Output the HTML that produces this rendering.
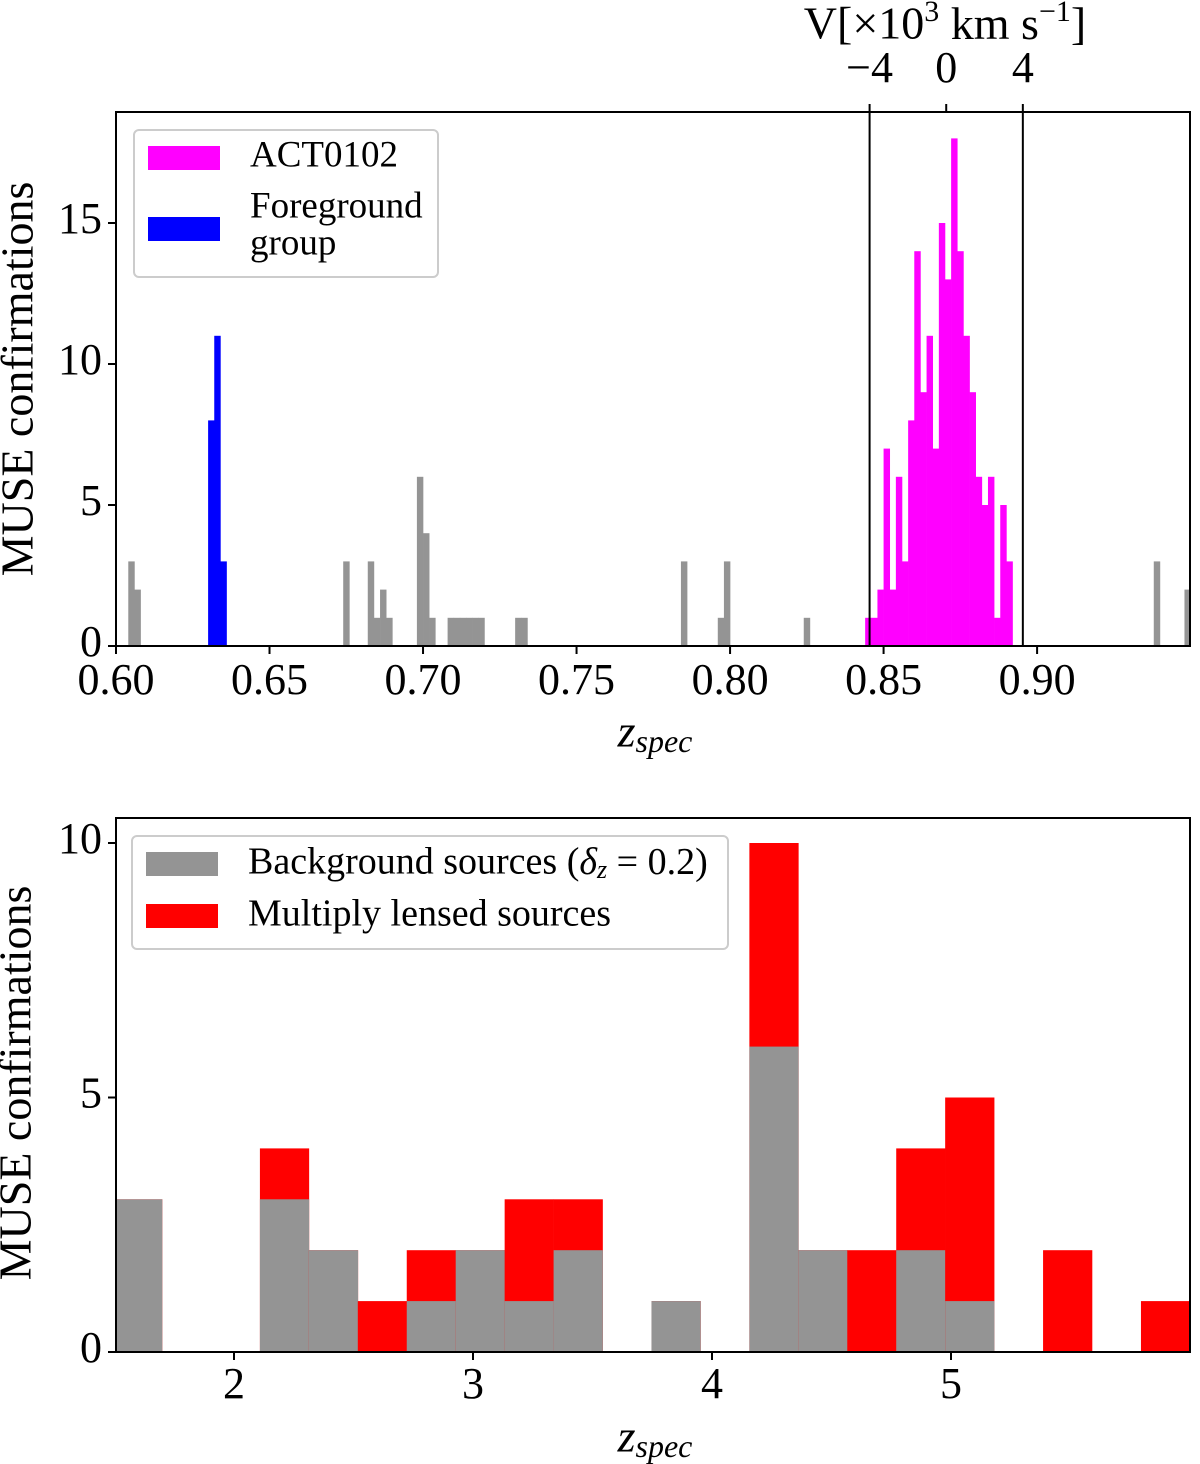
<!DOCTYPE html>
<html><head><meta charset="utf-8"><style>
body{margin:0;background:#fff}
svg{display:block;font-family:"Liberation Serif",serif}
</style></head><body>
<svg id="chart" width="1200" height="1464" viewBox="0 0 1200 1464" xmlns="http://www.w3.org/2000/svg"></svg>
<script>
// ---- Top panel data (bin width 0.002 starting at z=0.600) ----
const topBinStart = 0.600;
const topBinWidth = 0.002;
const topXTicks = [0.60, 0.65, 0.70, 0.75, 0.80, 0.85, 0.90];
const topXTickLabels = ["0.60","0.65","0.70","0.75","0.80","0.85","0.90"];
const topYTicks = [0, 5, 10, 15];
const velTicks = [-4, 0, 4];
const velTickLabels = ["\u22124","0","4"];
const clusterZ = 0.8704;
const grayBins = [2,3,37,41,42,43,44,49,50,51,54,55,56,57,58,59,65,66,92,98,99,112,169,174];
const grayCounts = [3,2,3,3,1,2,1,6,4,1,1,1,1,1,1,1,1,1,3,1,3,1,3,2];
const blueBins = [15,16,17];
const blueCounts = [8,11,3];
const magentaFirstBin = 122;
const magentaCounts = [1,1,2,7,2,6,3,8,14,9,11,7,15,13,18,14,11,9,6,5,6,1,5,3];
// ---- Bottom panel data ----
const botBinStart = 1.494;
const botBinWidth = 0.2048;
const bgCounts    = [3,0,0,3,2,0,1,2,1,2,0,1,0,6,2,0,2,1,0,0,0,0];
const totalCounts = [3,0,0,4,2,1,2,2,3,3,0,1,0,10,2,2,4,5,0,2,0,1];
const botXTicks = [2,3,4,5];
const botYTicks = [0,5,10];

const NS="http://www.w3.org/2000/svg";
const svg=document.getElementById('chart');
function mk(tag,attrs,parent){const e=document.createElementNS(NS,tag);for(const k in attrs)e.setAttribute(k,attrs[k]);(parent||svg).appendChild(e);return e;}
function txt(s,x,y,size,anchor,parent,extra){const t=mk('text',Object.assign({x:x,y:y,'font-size':size,'text-anchor':anchor||'middle','dominant-baseline':'middle',fill:'#000'},extra||{}),parent);t.textContent=s;return t;}
const TICK=44, LAB=46, LEG=37;

// Top axes
const T={x0:116,x1:1190,y0:112,y1:646,zmin:0.6,zmax:0.9498};
const tx=z=>T.x0+(z-T.zmin)/(T.zmax-T.zmin)*(T.x1-T.x0);
const ty=c=>T.y1-c*28.2;
const gTop=mk('g',{});


const clipT=mk('clipPath',{id:'ct'},gTop);mk('rect',{x:T.x0,y:T.y0,width:T.x1-T.x0,height:T.y1-T.y0},clipT);
const barsT=mk('g',{'clip-path':'url(#ct)'},gTop);
function topBar(bin,c,color,name){
  const z0=topBinStart+bin*topBinWidth;
  const x=tx(z0),w=tx(z0+topBinWidth)-x;
  const r=mk('rect',{x:x,y:ty(c),width:w+0.3,height:T.y1-ty(c),fill:color},barsT);
  
  
}
grayBins.forEach((b,i)=>topBar(b,grayCounts[i],'#949494','field-galaxy-bar'));
blueBins.forEach((b,i)=>topBar(b,blueCounts[i],'#0000ff','foreground-group-bar'));
magentaCounts.forEach((c,i)=>topBar(magentaFirstBin+i,c,'#ff00ff','cluster-bar'));
const c=299.792;
const vz=v=>clusterZ+v*(1+clusterZ)/c;
[-4,4].forEach(v=>{const l=mk('line',{x1:tx(vz(v)),x2:tx(vz(v)),y1:T.y0,y2:T.y1,stroke:'#000','stroke-width':2},gTop);});
mk('rect',{x:T.x0,y:T.y0,width:T.x1-T.x0,height:T.y1-T.y0,fill:'none',stroke:'#000','stroke-width':2},gTop);
topXTicks.forEach((z,i)=>{const x=tx(z);mk('line',{x1:x,x2:x,y1:T.y1,y2:T.y1+8,stroke:'#000','stroke-width':2},gTop);const t=txt(topXTickLabels[i],x,684,TICK,'middle',gTop);});
topYTicks.forEach(v=>{const y=ty(v);mk('line',{x1:T.x0-8,x2:T.x0,y1:y,y2:y,stroke:'#000','stroke-width':2},gTop);const t=txt(String(v),T.x0-14,y,TICK,'end',gTop);});
velTicks.forEach((v,i)=>{const x=tx(vz(v));mk('line',{x1:x,x2:x,y1:T.y0-8,y2:T.y0,stroke:'#000','stroke-width':2},gTop);const t=txt(velTickLabels[i],x,72,TICK,'middle',gTop);});
const vt=txt('',945,28,LAB,'middle',gTop);vt.innerHTML='V[\u00d710<tspan dy="-14" font-size="30">3</tspan><tspan dy="14"> km s</tspan><tspan dy="-14" font-size="30">\u22121</tspan><tspan dy="14">]</tspan>';

const yl1=txt('MUSE confirmations',0,0,LAB,'middle',gTop,{transform:'translate(22,379) rotate(-90)'});

const xl1=txt('',655,736,LAB,'middle',gTop,{'font-style':'italic'});xl1.innerHTML='z<tspan dy="9" font-size="32">spec</tspan>';

const lgT=mk('g',{},gTop);
mk('rect',{x:134,y:130,width:304,height:147,rx:5,fill:'#fff',stroke:'#ccc','stroke-width':2},lgT);
mk('rect',{x:148,y:146,width:72,height:24,fill:'#ff00ff'},lgT);
txt('ACT0102',250,158,LEG,'start',lgT);
mk('rect',{x:148,y:217,width:72,height:24,fill:'#0000ff'},lgT);
txt('Foreground',250,209,LEG,'start',lgT);
txt('group',250,246,LEG,'start',lgT);

// Bottom axes
const B={x0:116,x1:1190,y0:818,y1:1352};
const bx=z=>234+(z-2)*239;
const by=v=>B.y1-v*50.9;
const gBot=mk('g',{});


const clipB=mk('clipPath',{id:'cb'},gBot);mk('rect',{x:B.x0,y:B.y0,width:B.x1-B.x0,height:B.y1-B.y0},clipB);
const barsB=mk('g',{'clip-path':'url(#cb)'},gBot);
totalCounts.forEach((t,i)=>{
  const z0=botBinStart+i*botBinWidth;const x=bx(z0),w=bx(z0+botBinWidth)-x;
  if(t>0){const r=mk('rect',{x:x,y:by(t),width:w+0.3,height:B.y1-by(t),fill:'#ff0000'},barsB);
  
  }
  const g=bgCounts[i];
  if(g>0){const r=mk('rect',{x:x,y:by(g),width:w+0.3,height:B.y1-by(g),fill:'#949494'},barsB);
  
  }
});
mk('rect',{x:B.x0,y:B.y0,width:B.x1-B.x0,height:B.y1-B.y0,fill:'none',stroke:'#000','stroke-width':2},gBot);
botXTicks.forEach(z=>{const x=bx(z);mk('line',{x1:x,x2:x,y1:B.y1,y2:B.y1+8,stroke:'#000','stroke-width':2},gBot);const t=txt(String(z),x,1388,TICK,'middle',gBot);});
botYTicks.forEach(v=>{const y=by(v);mk('line',{x1:B.x0-8,x2:B.x0,y1:y,y2:y,stroke:'#000','stroke-width':2},gBot);const t=txt(String(v),B.x0-14,y,TICK,'end',gBot);});
const yl2=txt('MUSE confirmations',0,0,LAB,'middle',gBot,{transform:'translate(20,1083) rotate(-90)'});

const xl2=txt('',655,1441,LAB,'middle',gBot,{'font-style':'italic'});xl2.innerHTML='z<tspan dy="9" font-size="32">spec</tspan>';

const lgB=mk('g',{},gBot);
mk('rect',{x:132,y:836,width:596,height:113,rx:5,fill:'#fff',stroke:'#ccc','stroke-width':2},lgB);
mk('rect',{x:146,y:852,width:72,height:24,fill:'#949494'},lgB);
const lt=txt('',248,865,38,'start',lgB);lt.innerHTML='Background sources (<tspan font-style="italic">\u03b4</tspan><tspan font-style="italic" dy="7" font-size="26">z</tspan><tspan dy="-7"> = 0.2)</tspan>';
mk('rect',{x:146,y:904,width:72,height:24,fill:'#ff0000'},lgB);
txt('Multiply lensed sources',248,917,38,'start',lgB);
</script>
</body></html>
